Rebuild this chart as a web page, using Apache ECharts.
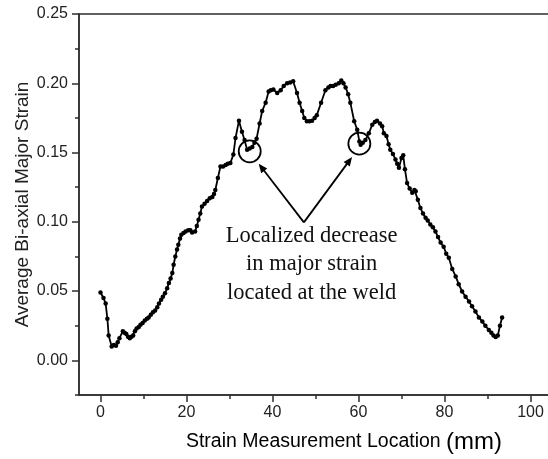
<!DOCTYPE html>
<html>
<head>
<meta charset="utf-8">
<script src="https://cdn.jsdelivr.net/npm/echarts@6/dist/echarts.min.js"></script>
<style>
html,body{margin:0;padding:0;background:#fff;}
#c{width:548px;height:459px;}
</style>
</head>
<body>
<div id="c"></div>
<script>
// ---- data ----
const locations = [0,0.7,1.2,1.6,1.9,2.6,3.1,3.6,4.0,4.4,5.2,5.6,6.0,6.4,6.8,7.2,7.6,8.0,8.4,8.9,9.3,9.8,10.3,10.8,11.2,11.7,12.2,12.7,13.2,13.6,14.1,14.5,15.0,15.5,15.9,16.3,16.7,17.0,17.4,17.8,18.1,18.5,18.8,19.3,19.8,20.4,20.9,21.3,22.0,22.4,22.8,23.2,23.6,24.2,24.8,25.4,26.0,26.4,26.7,27.3,27.9,28.5,29.1,29.6,30.2,30.9,31.4,32.2,32.9,33.5,34.1,34.7,35.3,35.8,36.3,37.0,37.6,38.4,39.1,39.6,40.2,41.1,41.9,42.6,43.4,44.1,44.8,45.7,46.3,46.9,47.4,48.0,48.6,49.2,49.8,50.3,51.3,52.3,53.0,53.5,54.1,54.7,55.4,56.0,56.5,57.0,57.6,58.1,59.0,59.7,60.2,60.5,61.0,61.6,62.4,63.2,63.8,64.3,65.0,65.5,65.9,66.5,67.0,67.4,68.0,68.6,69.0,69.4,70.0,70.4,70.8,71.3,71.9,72.5,73.0,73.3,73.8,74.4,75.0,75.6,76.1,76.7,77.3,77.9,78.5,79.1,79.8,80.4,81.0,81.8,82.6,83.3,84.1,84.9,85.7,86.4,87.2,88.0,88.8,89.5,90.3,90.9,91.4,91.9,92.4,92.9,93.4];
const strain = [0.049,0.045,0.041,0.030,0.018,0.010,0.011,0.0105,0.013,0.016,0.021,0.020,0.019,0.017,0.016,0.017,0.018,0.021,0.023,0.024,0.0257,0.027,0.0288,0.030,0.031,0.033,0.0348,0.036,0.0384,0.041,0.0437,0.046,0.0485,0.052,0.0558,0.059,0.063,0.069,0.075,0.080,0.0835,0.088,0.0907,0.092,0.093,0.094,0.094,0.0923,0.093,0.097,0.1015,0.106,0.111,0.113,0.115,0.117,0.118,0.120,0.123,0.1316,0.140,0.140,0.141,0.142,0.1425,0.1485,0.1605,0.173,0.165,0.159,0.152,0.153,0.154,0.157,0.160,0.171,0.180,0.186,0.194,0.195,0.1955,0.193,0.195,0.198,0.200,0.2005,0.2015,0.193,0.186,0.180,0.175,0.1726,0.1725,0.173,0.175,0.177,0.186,0.195,0.197,0.198,0.198,0.199,0.200,0.202,0.200,0.197,0.192,0.186,0.1726,0.1665,0.158,0.1557,0.157,0.159,0.164,0.170,0.172,0.173,0.171,0.169,0.164,0.162,0.156,0.152,0.149,0.145,0.142,0.139,0.146,0.148,0.138,0.128,0.124,0.121,0.123,0.122,0.116,0.110,0.106,0.103,0.101,0.098,0.096,0.093,0.089,0.085,0.082,0.077,0.074,0.066,0.0606,0.055,0.0497,0.046,0.0425,0.039,0.0353,0.031,0.028,0.025,0.022,0.020,0.018,0.0168,0.018,0.025,0.031];
const xTicks = [0,20,40,60,80,100];
const xMinorTicks = [10,30,50,70,90,110];
const yTicks = [0,0.05,0.10,0.15,0.20,0.25];
const yMinorTicks = [-0.025,0.025,0.075,0.125,0.175,0.225];
// annotation anchors (data coordinates)
const weldCircles = [[34.7,0.1509],[60.2,0.1564]];
const arrowApex = [47.3,0.0996];
const arrowTips = [[36.8,0.1419],[58.5,0.1468]];
const noteAnchor = [49.1,0.090];
const noteLines = ['Localized decrease','in major strain','located at the weld'];

const xMin=-5, xMax=110, yMin=-0.025, yMax=0.25;
const axisColor='#2e2e2e', textColor='#222';
const chart = echarts.init(document.getElementById('c'), null, {renderer:'canvas'});
const pts = locations.map((x,i)=>[x,strain[i]]);

const baseX = {type:'value',min:xMin,max:xMax,position:'bottom',gridIndex:0,splitLine:{show:false}};
const baseY = {type:'value',min:yMin,max:yMax,position:'left',gridIndex:0,splitLine:{show:false}};
const tickFont = {color:textColor,fontSize:16,fontFamily:'Liberation Sans, Arial'};

chart.setOption({
  animation:false,
  backgroundColor:'#fff',
  grid:{left:79,top:14,width:494.5,height:381,outerBoundsMode:'none',containLabel:false,show:true,borderColor:axisColor,borderWidth:1.5,backgroundColor:'transparent'},
  xAxis:[
    Object.assign({},baseX,{
      axisLine:{show:true,onZero:false,lineStyle:{color:axisColor,width:1.5}},
      axisTick:{show:true,inside:false,length:7,customValues:xTicks,lineStyle:{color:axisColor,width:1.5}},
      axisLabel:Object.assign({show:true,margin:10,customValues:xTicks},tickFont)
    }),
    Object.assign({},baseX,{
      axisLine:{show:false,onZero:false},
      axisTick:{show:true,inside:false,length:4,customValues:xMinorTicks,lineStyle:{color:axisColor,width:1.5}},
      axisLabel:{show:false}
    })
  ],
  yAxis:[
    Object.assign({},baseY,{
      name:'Average Bi-axial Major Strain',nameLocation:'middle',nameGap:47,nameMoveOverlap:false,
      nameTextStyle:{fontSize:19,color:textColor,fontFamily:'Liberation Sans, Arial'},
      axisLine:{show:true,onZero:false,lineStyle:{color:axisColor,width:1.5}},
      axisTick:{show:true,inside:false,length:7,customValues:yTicks,lineStyle:{color:axisColor,width:1.5}},
      axisLabel:Object.assign({show:true,margin:11,customValues:yTicks,formatter:v=>v.toFixed(2)},tickFont)
    }),
    Object.assign({},baseY,{
      axisLine:{show:false,onZero:false},
      axisTick:{show:true,inside:false,length:4,customValues:yMinorTicks,lineStyle:{color:axisColor,width:1.5}},
      axisLabel:{show:false}
    })
  ],
  series:[{
    type:'line',xAxisIndex:0,yAxisIndex:0,data:pts,
    symbol:'circle',symbolSize:4.5,showSymbol:true,
    lineStyle:{color:'#000',width:1.8},
    itemStyle:{color:'#000',borderWidth:0}
  }]
});

function px(p){return chart.convertToPixel({gridIndex:0},p);}
const g=[];
weldCircles.forEach(c=>{
  const p=px(c);
  g.push({type:'circle',shape:{cx:p[0],cy:p[1],r:11},style:{fill:null,stroke:'#000',lineWidth:1.8},z:100});
});
const a=px(arrowApex);
arrowTips.forEach(t=>{
  const tp=px(t);
  const dx=tp[0]-a[0], dy=tp[1]-a[1], L=Math.hypot(dx,dy), ux=dx/L, uy=dy/L;
  const hl=9, hw=3.8;
  const bx=tp[0]-ux*hl, by=tp[1]-uy*hl;
  g.push({type:'line',shape:{x1:a[0],y1:a[1],x2:bx+ux*2,y2:by+uy*2},style:{stroke:'#000',lineWidth:1.8},z:100});
  g.push({type:'polygon',shape:{points:[[tp[0],tp[1]],[bx-uy*hw,by+ux*hw],[bx+uy*hw,by-ux*hw]]},style:{fill:'#000'},z:100});
});
const n=px(noteAnchor);
noteLines.forEach((s,i)=>{
  g.push({type:'text',x:n[0],y:n[1]+i*28.5,style:{text:s,font:'22.5px "Liberation Serif", "Times New Roman", serif',fill:'#111',align:'center',verticalAlign:'middle'},z:100});
});
g.push({type:'text',x:344,y:442,style:{
  rich:{a:{fontSize:19.5,fontFamily:'Liberation Sans, Arial',color:textColor},b:{fontSize:24,fontFamily:'Liberation Sans, Arial',color:textColor}},
  text:'{a|Strain Measurement Location }{b|(mm)}',align:'center',verticalAlign:'middle'},z:100});
chart.setOption({graphic:g});
</script>
</body>
</html>
